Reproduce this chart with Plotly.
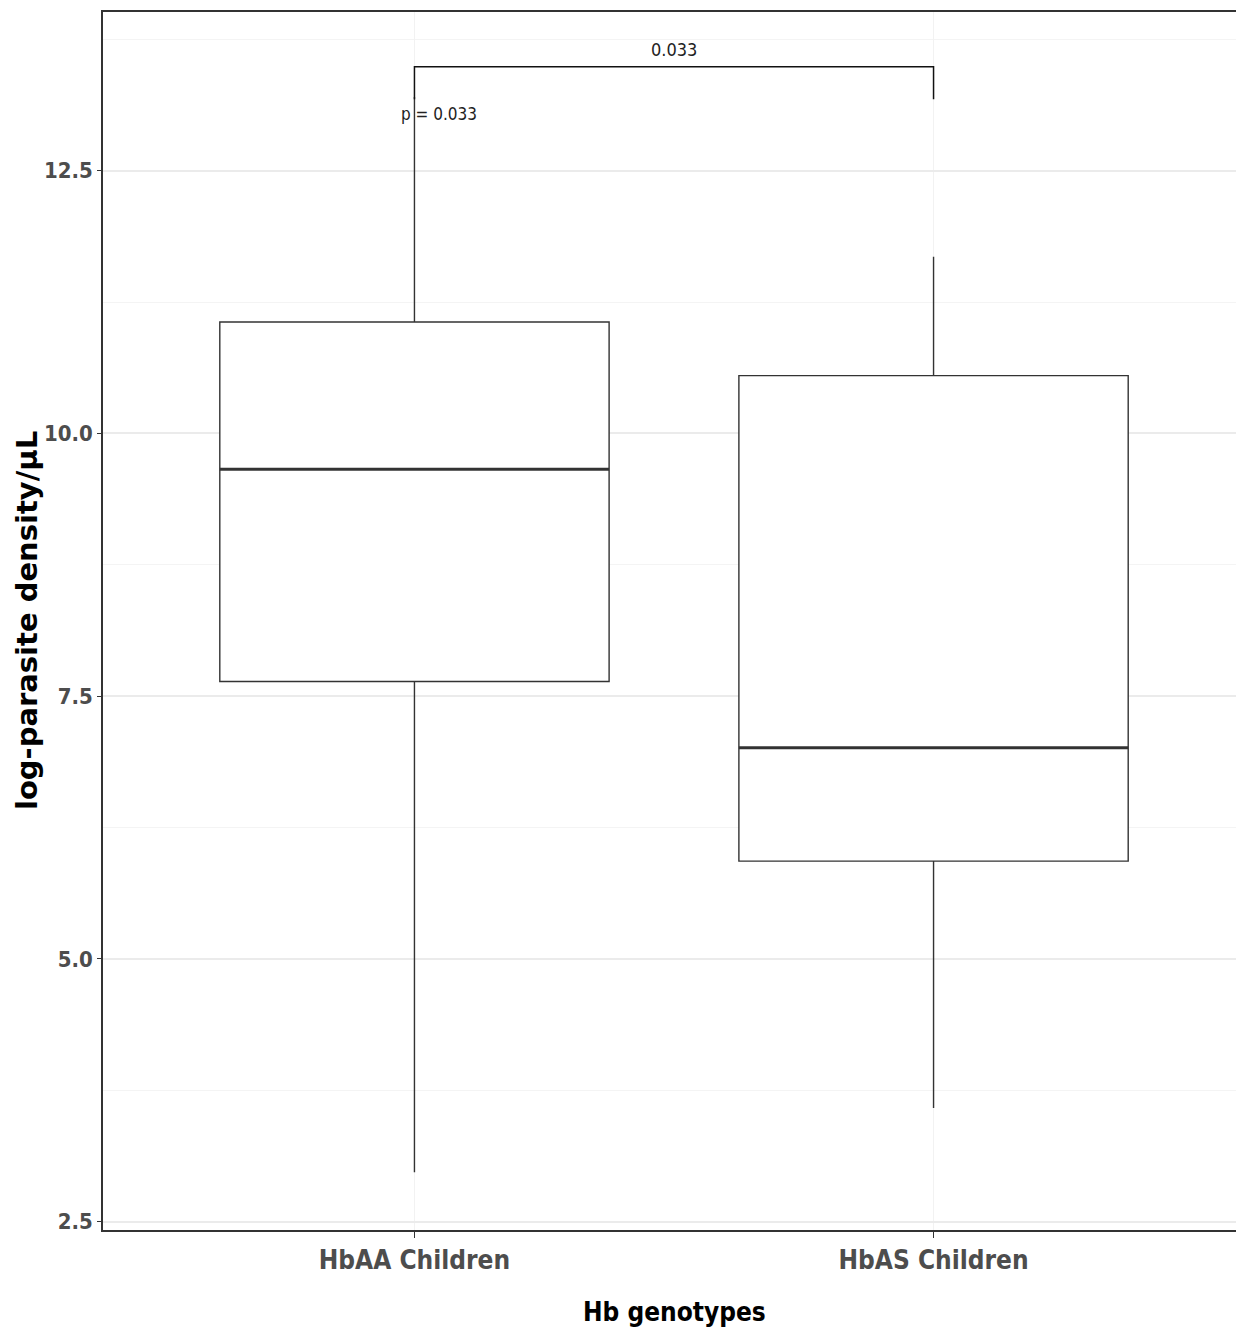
import plotly.graph_objects as go

# ---- data ----
categories = ["HbAA Children", "HbAS Children"]
q1 = [7.64, 5.93]
median = [9.66, 7.01]
q3 = [11.06, 10.55]
lower_whisker = [2.97, 3.58]
upper_whisker = [13.20, 11.68]

p_label = "0.033"
p_text = "p = 0.033"
bracket_y = 13.49
bracket_tip_y = 13.18
p_text_y = 13.04

y_ticks = [2.5, 5.0, 7.5, 10.0, 12.5]
y_tick_text = ["2.5", "5.0", "7.5", "10.0", "12.5"]

x_title = "Hb genotypes"
y_title = "log-parasite density/μL"

box_width = 0.75
pos = list(range(len(categories)))

fig = go.Figure()

for i, c in enumerate(categories):
    fig.add_trace(go.Box(
        x=[pos[i]],
        q1=[q1[i]], median=[median[i]], q3=[q3[i]],
        lowerfence=[lower_whisker[i]], upperfence=[upper_whisker[i]],
        width=box_width,
        fillcolor="white",
        line=dict(color="#333333", width=1.4),
        whiskerwidth=0,
        boxpoints=False,
        hoverinfo="skip",
        showlegend=False,
    ))
    # thicker median line like ggplot
    fig.add_trace(go.Scatter(
        x=[pos[i] - box_width / 2, pos[i] + box_width / 2],
        y=[median[i], median[i]],
        mode="lines",
        line=dict(color="#333333", width=3),
        hoverinfo="skip",
        showlegend=False,
    ))

# significance bracket
fig.add_trace(go.Scatter(
    x=[pos[0], pos[0], pos[1], pos[1]],
    y=[bracket_tip_y, bracket_y, bracket_y, bracket_tip_y],
    mode="lines",
    line=dict(color="#111111", width=1.5),
    hoverinfo="skip",
    showlegend=False,
))

cond = "DejaVu Sans Condensed, Liberation Sans Narrow, sans-serif"

fig.add_annotation(
    x=(pos[0] + pos[1]) / 2, y=bracket_y, xref="x", yref="y",
    text=p_label, showarrow=False, yanchor="bottom", yshift=5,
    font=dict(family=cond, size=18, color="#222222"),
)
fig.add_annotation(
    x=pos[0] - 0.03, y=p_text_y, xref="x", yref="y",
    text=p_text, showarrow=False, xanchor="left", yanchor="middle",
    font=dict(family=cond, size=17, color="#222222"),
)

# axis titles as annotations (kept out of automargin)
fig.add_annotation(
    x=0, y=0.5, xref="paper", yref="paper",
    text="<b>" + y_title + "</b>", showarrow=False, textangle=-90,
    xanchor="center", yanchor="middle", xshift=-76,
    font=dict(family="DejaVu Sans, Arial, sans-serif", size=29, color="black"),
)
fig.add_annotation(
    x=0.5, y=0, xref="paper", yref="paper",
    text="<b>" + x_title + "</b>", showarrow=False,
    xanchor="center", yanchor="middle", yshift=-82,
    font=dict(family=cond, size=26, color="black"),
)

fig.update_layout(
    width=1244, height=1339,
    margin=dict(l=95, r=7, t=4, b=117),
    plot_bgcolor="white", paper_bgcolor="white",
    xaxis=dict(
        tickmode="array", tickvals=pos, ticktext=categories,
        range=[-0.6, len(categories) - 1 + 0.6],
        showgrid=True, gridcolor="#F2F2F2", gridwidth=1,
        showline=True, linecolor="#333333", linewidth=1.5, mirror=True,
        ticks="outside", ticklen=6, tickcolor="#333333",
        tickfont=dict(family=cond, size=26, color="#4D4D4D", weight="bold"),
        automargin=False,
        zeroline=False,
    ),
    yaxis=dict(
        range=[2.42, 14.01],
        tickmode="array", tickvals=y_ticks, ticktext=y_tick_text,
        showgrid=True, gridcolor="#EBEBEB", gridwidth=1.5,
        minor=dict(dtick=1.25, tick0=2.5, showgrid=True, gridcolor="#F4F4F4", gridwidth=1),
        showline=True, linecolor="#333333", linewidth=1.5, mirror=False,
        ticks="outside", ticklen=4, tickcolor="#333333",
        tickfont=dict(family=cond, size=22, color="#4D4D4D", weight="bold"),
        automargin=False,
        zeroline=False,
    ),
)

fig.write_html("out.html")
